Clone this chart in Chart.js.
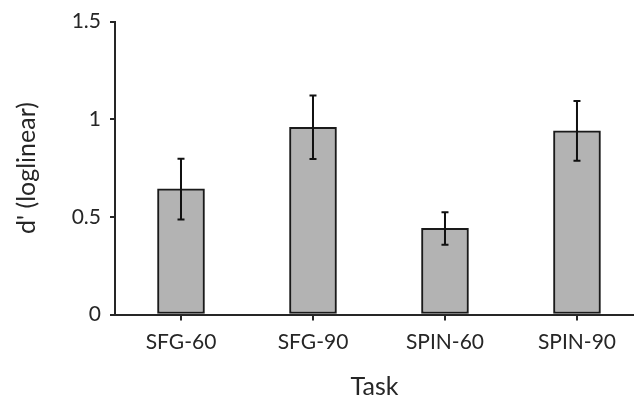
<!DOCTYPE html>
<html>
<head>
<meta charset="utf-8">
<script src="https://cdn.jsdelivr.net/npm/chart.js@4/dist/chart.umd.min.js"></script>
<style>
html,body{margin:0;padding:0;background:#fff;}
#wrap{width:634px;height:398px;position:relative;}
</style>
</head>
<body>
<div id="wrap"><canvas id="c" width="634" height="398"></canvas></div>
<script>
const categories = ['SFG-60', 'SFG-90', 'SPIN-60', 'SPIN-90'];
const meanValues = [0.644, 0.959, 0.441, 0.940];
const errLow = [0.487, 0.796, 0.357, 0.788];
const errHigh = [0.797, 1.122, 0.524, 1.094];
const yTicks = [0, 0.5, 1, 1.5];

const ink = '#262626';
const fontFamily = 'Lato, "Open Sans", sans-serif';

const errorBars = {
  id: 'errorBars',
  afterDatasetsDraw(chart) {
    const ctx = chart.ctx;
    const xs = chart.scales.x, ys = chart.scales.y;
    ctx.save();
    ctx.strokeStyle = '#111';
    ctx.lineWidth = 2;
    errLow.forEach((lo, i) => {
      const x = xs.getPixelForValue(i);
      const y1 = ys.getPixelForValue(lo);
      const y2 = ys.getPixelForValue(errHigh[i]);
      ctx.beginPath();
      ctx.moveTo(x, y1); ctx.lineTo(x, y2);
      ctx.moveTo(x - 3.5, y1); ctx.lineTo(x + 3.5, y1);
      ctx.moveTo(x - 3.5, y2); ctx.lineTo(x + 3.5, y2);
      ctx.stroke();
    });
    ctx.restore();
  }
};

new Chart(document.getElementById('c'), {
  type: 'bar',
  data: {
    datasets: [{
      data: meanValues.map((v, i) => ({x: i, y: v})),
      backgroundColor: '#b3b3b3',
      borderColor: '#1a1a1a',
      borderWidth: 2,
      borderSkipped: false,
      barThickness: 47
    }]
  },
  options: {
    responsive: false,
    animation: false,
    layout: {padding: {top: 17, right: 0, left: 0, bottom: 0}},
    plugins: {legend: {display: false}, tooltip: {enabled: false}},
    scales: {
      x: {
        type: 'linear',
        offset: false,
        min: -0.5,
        max: 3.432,
        afterBuildTicks(scale) { scale.ticks = categories.map((c, i) => ({value: i})); },
        afterFit(scale) { scale.height = 83.5; },
        ticks: {
          callback: (v) => categories[v],
          color: ink,
          font: {family: fontFamily, size: 21},
          padding: 9,
          maxRotation: 0,
          autoSkip: false
        },
        grid: {offset: false, drawOnChartArea: false, drawTicks: true, tickLength: 6, color: ink, lineWidth: 2},
        border: {display: true, color: ink, width: 2},
        title: {display: true, text: 'Task', color: ink, font: {family: fontFamily, size: 25, lineHeight: 0.9}, padding: {top: 0, bottom: 0}}
      },
      y: {
        min: 0,
        max: 1.5,
        afterBuildTicks(scale) { scale.ticks = yTicks.map(v => ({value: v})); },
        afterFit(scale) { scale.width = 115; },
        ticks: {
          callback: (v) => String(v),
          color: ink,
          font: {family: fontFamily, size: 21},
          padding: 9
        },
        grid: {drawOnChartArea: false, drawTicks: true, tickLength: 5, color: ink, lineWidth: 2},
        border: {display: true, color: ink, width: 2},
        title: {display: true, text: "d' (loglinear)", color: ink, font: {family: fontFamily, size: 25}, padding: {top: 12, bottom: 0}}
      }
    }
  },
  plugins: [errorBars]
});
</script>
</body>
</html>
